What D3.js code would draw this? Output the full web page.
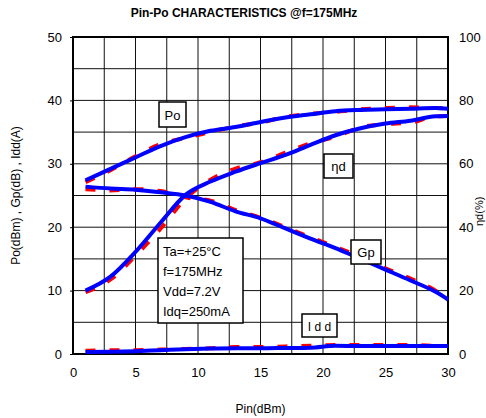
<!DOCTYPE html>
<html>
<head>
<meta charset="utf-8">
<script src="https://cdn.jsdelivr.net/npm/d3@7"></script>
<style>
  body { margin: 0; background: #fff; }
  text { font-family: Arial, "Liberation Sans", sans-serif; }
</style>
</head>
<body>
<div id="chart"></div>
<script>
// Pin (dBm)
const pin = [1, 3, 5, 7, 9, 11, 13, 15, 17, 19, 21, 23, 25, 27, 29, 30];
// blue (solid) curves
const po = [27.4, 29.2, 31.0, 32.8, 34.2, 35.2, 35.8, 36.6, 37.3, 37.8, 38.3, 38.5, 38.6, 38.7, 38.8, 38.7];
const gp = [26.4, 26.1, 25.9, 25.5, 25.0, 24.0, 22.5, 21.4, 19.8, 18.2, 16.7, 15.0, 13.3, 11.6, 9.8, 8.6];
const idd = [0.3, 0.35, 0.45, 0.6, 0.75, 0.85, 0.9, 0.9, 0.95, 1.0, 1.3, 1.25, 1.25, 1.25, 1.25, 1.25];
const eta = [20, 24.4, 32.2, 41.4, 50.2, 54.4, 57.5, 60.2, 62.8, 66, 69, 71.2, 72.7, 73.6, 75, 75.1];
// red (dashed) curves
const poR = [27.1, 29.0, 31.2, 33.1, 34.1, 35.0, 35.9, 36.5, 37.4, 37.9, 38.2, 38.6, 38.8, 38.9, 38.8, 38.7];
const gpR = [26.0, 25.8, 26.0, 25.7, 24.7, 24.2, 22.7, 21.5, 20.0, 18.4, 16.9, 15.3, 13.5, 11.9, 10.0, 8.6];
const iddR = [0.5, 0.6, 0.6, 0.7, 0.8, 0.9, 1.1, 1.1, 1.2, 1.3, 1.4, 1.4, 1.4, 1.4, 1.3, 1.25];
const etaR = [19.5, 23.5, 31.0, 39.5, 49.0, 55.0, 58.5, 60.5, 63.5, 66.5, 68.5, 71.5, 72.5, 73.0, 75, 75.1];

const xTicks = [0, 5, 10, 15, 20, 25, 30];
const yTicks = [0, 10, 20, 30, 40, 50];
const y2Ticks = [0, 20, 40, 60, 80, 100];

const W = 486, H = 418;
const m = { left: 73, right: 38, top: 37, bottom: 64 };

const svg = d3.select("#chart").append("svg")
    .attr("width", W)
    .attr("height", H);

const x = d3.scaleLinear().domain([0, 30]).range([m.left, W - m.right]);
const y = d3.scaleLinear().domain([0, 50]).range([H - m.bottom, m.top]);
const y2 = d3.scaleLinear().domain([0, 100]).range([H - m.bottom, m.top]);

svg.append("text")
    .attr("x", 244)
    .attr("y", 17)
    .attr("text-anchor", "middle")
    .attr("font-size", 12)
    .attr("font-weight", "bold")
    .text("Pin-Po CHARACTERISTICS @f=175MHz");

// grid
const grid = svg.append("g");
grid.selectAll("line.v")
    .data(d3.range(2.5, 30, 2.5))
    .enter().append("line")
    .attr("x1", d => x(d)).attr("x2", d => x(d))
    .attr("y1", y(0)).attr("y2", y(50))
    .attr("stroke", "#111").attr("stroke-width", 1);
grid.selectAll("line.h")
    .data(d3.range(5, 50, 5))
    .enter().append("line")
    .attr("x1", x(0)).attr("x2", x(30))
    .attr("y1", d => y(d)).attr("y2", d => y(d))
    .attr("stroke", "#111").attr("stroke-width", 1);

// axes
const xAxis = svg.append("g")
    .attr("transform", `translate(0,${y(0)})`)
    .call(d3.axisBottom(x).tickValues(xTicks).tickSize(0).tickPadding(14));
const yAxis = svg.append("g")
    .attr("transform", `translate(${x(0)},0)`)
    .call(d3.axisLeft(y).tickValues(yTicks).tickSize(3).tickPadding(8));
const y2Axis = svg.append("g")
    .attr("transform", `translate(${x(30)},0)`)
    .call(d3.axisRight(y2).tickValues(y2Ticks).tickSize(0).tickPadding(11));

[xAxis, yAxis, y2Axis].forEach(a => {
    a.select(".domain").remove();
    a.selectAll("text").attr("font-size", 13).attr("font-family", "Arial, 'Liberation Sans', sans-serif").attr("fill", "#000");
    a.selectAll("line").attr("stroke", "#000");
});

svg.append("rect")
    .attr("x", x(0)).attr("y", y(50))
    .attr("width", x(30) - x(0)).attr("height", y(0) - y(50))
    .attr("fill", "none").attr("stroke", "#000").attr("stroke-width", 2);

// axis titles
svg.append("text")
    .attr("transform", `translate(20,${(y(0) + y(50)) / 2}) rotate(-90)`)
    .attr("text-anchor", "middle")
    .attr("font-size", 12)
    .text("Po(dBm) , Gp(dB) , Idd(A)");
svg.append("text")
    .attr("x", (x(0) + x(30)) / 2)
    .attr("y", 413)
    .attr("text-anchor", "middle")
    .attr("font-size", 12)
    .text("Pin(dBm)");
svg.append("text")
    .attr("transform", `translate(483,${y2(45)}) rotate(-90)`)
    .attr("text-anchor", "middle")
    .attr("font-size", 11)
    .text("ηd(%)");

// curves
const lineL = d3.line().x((d, i) => x(pin[i])).y(d => y(d)).curve(d3.curveMonotoneX);
const lineR = d3.line().x((d, i) => x(pin[i])).y(d => y2(d)).curve(d3.curveMonotoneX);

const red = [[poR, lineL], [gpR, lineL], [iddR, lineL], [etaR, lineR]];
const blue = [[po, lineL], [gp, lineL], [idd, lineL], [eta, lineR]];

svg.append("g").selectAll("path")
    .data(red).enter().append("path")
    .attr("d", d => d[1](d[0]))
    .attr("fill", "none")
    .attr("stroke", "#ff0000")
    .attr("stroke-width", 4)
    .attr("stroke-dasharray", "10,14");

svg.append("g").selectAll("path")
    .data(blue).enter().append("path")
    .attr("d", d => d[1](d[0]))
    .attr("fill", "none")
    .attr("stroke", "#0000ff")
    .attr("stroke-width", 4)
    .attr("stroke-linejoin", "round");

// labels
function tag(x0, y0, w, h, label, font, size) {
    svg.append("rect")
        .attr("x", x0).attr("y", y0).attr("width", w).attr("height", h)
        .attr("fill", "#fff").attr("stroke", "#000").attr("stroke-width", 1.5);
    svg.append("text")
        .attr("x", x0 + w / 2).attr("y", y0 + h / 2 + 5)
        .attr("text-anchor", "middle")
        .attr("font-size", size || 13)
        .attr("font-family", font || null)
        .text(label);
}
tag(159, 102, 27, 25, "Po");
tag(324, 154, 29, 24, "ηd");
tag(351, 240, 30, 24, "Gp");
tag(302, 314, 35, 23, "I d d", "'Liberation Mono', monospace", 12);

svg.append("rect")
    .attr("x", 158).attr("y", 238).attr("width", 85).attr("height", 85)
    .attr("fill", "#fff").attr("stroke", "#000").attr("stroke-width", 1.5);
const cond = ["Ta=+25°C", "f=175MHz", "Vdd=7.2V", "Idq=250mA"];
svg.append("g").selectAll("text")
    .data(cond).enter().append("text")
    .attr("x", 163)
    .attr("y", (d, i) => 256 + i * 20)
    .attr("font-size", 13)
    .text(d => d);
</script>
</body>
</html>
